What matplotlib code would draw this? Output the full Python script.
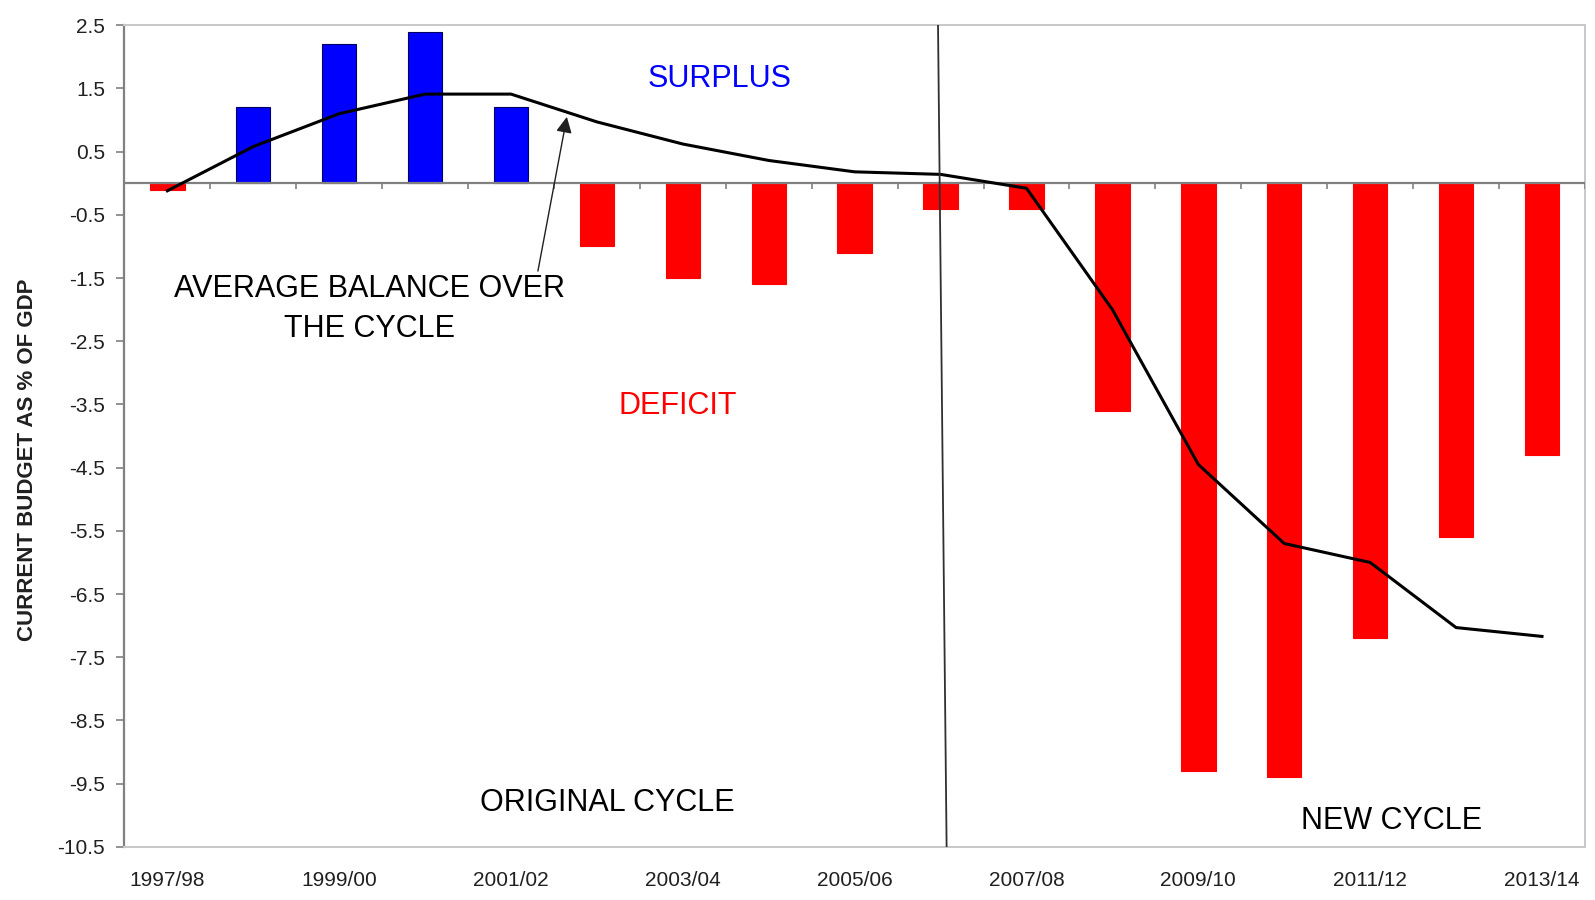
import numpy as np
import matplotlib
matplotlib.use("Agg")
import matplotlib.pyplot as plt

plt.rcParams["font.family"] = ["Liberation Sans", "DejaVu Sans"]
plt.rcParams["axes.unicode_minus"] = False

# data
years = [
    "1997/98", "1998/99", "1999/00", "2000/01", "2001/02", "2002/03",
    "2003/04", "2004/05", "2005/06", "2006/07", "2007/08", "2008/09",
    "2009/10", "2010/11", "2011/12", "2012/13", "2013/14",
]
balance = [
    -0.1, 1.2, 2.2, 2.4, 1.2, -1.0, -1.5, -1.6, -1.1, -0.4,
    -0.4, -3.6, -9.3, -9.4, -7.2, -5.6, -4.3,
]
avg_balance = [
    -0.12, 0.58, 1.1, 1.41, 1.41, 0.97, 0.62, 0.36, 0.18, 0.14,
    -0.08, -2.0, -4.45, -5.7, -6.0, -7.03, -7.17,
]
ytick_vals = [2.5, 1.5, 0.5, -0.5, -1.5, -2.5, -3.5, -4.5, -5.5, -6.5,
              -7.5, -8.5, -9.5, -10.5]
cycle_break = 9  # 2006/07

BLUE = "#0000FF"
RED = "#FF0000"
GRID = "#808080"

fig = plt.figure(figsize=(15.95, 9), dpi=100)
ax = fig.add_axes([0.078, 0.059, 0.9157, 0.913])

x = np.arange(len(years))
colors = [BLUE if v > 0 else RED for v in balance]
edges = ["#000060" if v > 0 else RED for v in balance]
ax.bar(x, balance, width=0.4, color=colors, edgecolor=edges, linewidth=0.8,
       zorder=2)

# zero line with tick marks at category boundaries
ax.axhline(0, color=GRID, lw=1.6, zorder=3)
bounds = np.arange(len(years) + 1) - 0.5
ax.vlines(bounds, -0.09, 0, color=GRID, lw=1.2, zorder=3)

ax.plot(x, avg_balance, color="black", lw=2.2, zorder=4)

# divider between the two cycles
ax.plot([cycle_break - 0.03, cycle_break + 0.07], [2.5, -10.5],
        color="#303030", lw=1.3, zorder=5)

ax.set_xlim(-0.5, len(years) - 0.5)
ax.set_ylim(-10.5, 2.5)

ax.set_yticks(ytick_vals)
ax.set_yticklabels([f"{v:.1f}" for v in ytick_vals], fontsize=15,
                   color="#202020")
ax.set_xticks(x[::2])
ax.set_xticklabels(years[::2], fontsize=15, color="#202020")
ax.tick_params(axis="x", length=0, pad=17)
ax.tick_params(axis="y", length=6, width=1.2, color=GRID, pad=8,
               direction="out")

ax.spines["left"].set_color(GRID)
ax.spines["left"].set_linewidth(1.6)
for side in ["top", "right", "bottom"]:
    ax.spines[side].set_color("#c8c8c8")
    ax.spines[side].set_linewidth(1.4)

fig.text(0.0175, 1 - 460 / 900, "CURRENT BUDGET AS % OF GDP", rotation=90,
         ha="center", va="center", fontsize=16, fontweight="bold",
         color="#202020")

ax.text(6.43, 1.65, "SURPLUS", color=BLUE, fontsize=22, ha="center",
        va="center")
ax.text(5.94, -3.53, "DEFICIT", color=RED, fontsize=22, ha="center",
        va="center")
ax.text(5.12, -9.8, "ORIGINAL CYCLE", color="black", fontsize=22,
        ha="center", va="center")
ax.text(14.25, -10.09, "NEW CYCLE", color="black", fontsize=22,
        ha="center", va="center")
ax.annotate("AVERAGE BALANCE OVER\nTHE CYCLE", xy=(4.65, 1.05),
            xytext=(2.35, -1.99), fontsize=22, ha="center", va="center",
            linespacing=1.45,
            arrowprops=dict(arrowstyle="-|>", color="#202020", lw=1.0,
                            mutation_scale=24, shrinkA=0, shrinkB=0,
                            relpos=(0.93, 1.0)))

fig.savefig("out.png", dpi=100, facecolor="white")
